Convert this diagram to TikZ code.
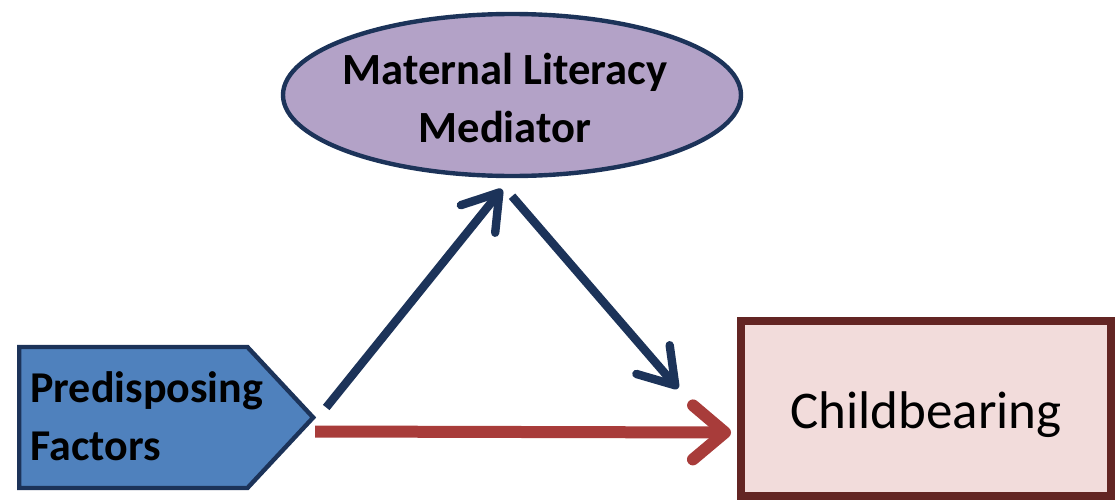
\documentclass[tikz,border=0pt]{standalone}
\usepackage{fontspec}
\setmainfont{Carlito}
\usepackage{tikz}
\usetikzlibrary{arrows.meta}
\usetikzlibrary{shapes.geometric}
\usetikzlibrary{shapes.symbols}

\definecolor{navyline}{HTML}{1C3359}
\definecolor{factorblue}{HTML}{4F81BD}
\definecolor{lavender}{HTML}{B3A2C7}
\definecolor{redarrow}{HTML}{A83C3A}
\definecolor{maroon}{HTML}{632523}
\definecolor{pinkfill}{HTML}{F2DCDB}

\begin{document}
\begin{tikzpicture}[x=0.5pt,y=-0.5pt,factor/.style={signal, signal to=east, signal pointer angle=94, draw=navyline, fill=factorblue, line width=2.2pt, minimum width=147pt, minimum height=70.5pt, inner sep=0pt},factortext/.style={align=left, inner sep=0pt, font=\bfseries\fontsize{22}{29}\selectfont},mediator/.style={ellipse, draw=navyline, fill=lavender, line width=2.2pt, minimum width=229pt, minimum height=81pt, inner sep=0pt, align=center, font=\bfseries\fontsize{22.3}{29}\selectfont},outcome/.style={rectangle, draw=maroon, fill=pinkfill, line width=4pt, minimum width=185pt, minimum height=87.5pt, inner sep=0pt, font=\fontsize{26.5}{32}\selectfont},navyarrow/.style={draw=navyline, line width=4.2pt, -{Straight Barb[length=17pt,width=22pt,round]}},redarr/.style={draw=redarrow, line width=6pt, -{Straight Barb[length=16pt,width=27pt,round]}}]
	
	\useasboundingbox (0,0) rectangle (1120,503);
	
	\node[factor, anchor=west] (pre) at (17,417.5) {};
	\node[factortext, anchor=west] (pretext) at ([xshift=6.5pt,yshift=0.5pt]pre.west) {Predisposing\\Factors};
	\node[mediator] (med) at (512,95) {};
	\node[mediator, draw=none, fill=none] (medtext) at ([xshift=-3.5pt,yshift=-1.5pt]med.center) {Maternal Literacy\\Mediator};
	\node[outcome] (child) at (926,408.5) {};
	\node[font=\fontsize{26.5}{32}\selectfont, inner sep=0pt] (childtext) at ([yshift=-3pt]child.center) {Childbearing};
	
	\draw[navyarrow] ([xshift=5pt,yshift=5pt]pre.east) -- ([xshift=-5pt,yshift=-5.5pt]med.south);
	\draw[navyarrow] ([xshift=0pt,yshift=-9pt]med.south) -- ([xshift=-29.5pt,yshift=10pt]child.west);
	\draw[redarr] ([xshift=-0.5pt,yshift=-7pt]pre.east) -- ([xshift=-3pt,yshift=-12pt]child.west);
	
\end{tikzpicture}
\end{document}
